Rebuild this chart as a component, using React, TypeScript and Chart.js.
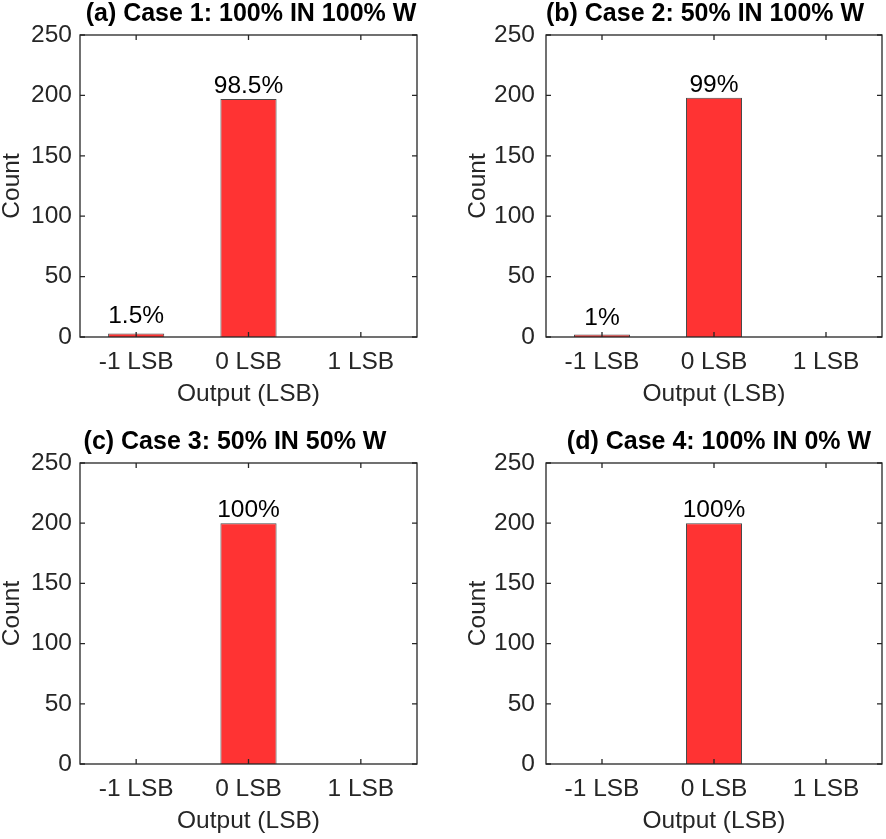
import { useEffect, useRef } from "react";
import { Chart, registerables } from "chart.js";

Chart.register(...registerables);

// ---- data ----
const categories = ["-1 LSB", "0 LSB", "1 LSB"];

const case1Counts = [3, 197, 0];
const case2Counts = [2, 198, 0];
const case3Counts = [0, 200, 0];
const case4Counts = [0, 200, 0];

const case1Labels = ["1.5%", "98.5%", ""];
const case2Labels = ["1%", "99%", ""];
const case3Labels = ["", "100%", ""];
const case4Labels = ["", "100%", ""];

const panelTitles = [
  "(a) Case 1: 100% IN 100% W",
  "(b) Case 2: 50% IN 100% W",
  "(c) Case 3: 50% IN 50% W",
  "(d) Case 4: 100% IN 0% W",
];

const yMin = 0;
const yMax = 250;
const yStep = 50;

const xTitle = "Output (LSB)";
const yTitle = "Count";

// ---- layout (px) ----
const FONT = '"Liberation Sans", Arial, Helvetica, sans-serif';
const FONT_SIZE = 24.5;
const TITLE_SIZE = 25;
const TEXT = "#262626";
const BAR_FILL = "#ff3333";
const BAR_EDGE = "#4a4a4a";

interface PanelLayout {
  left: number;
  top: number;
  width: number;
  height: number;
  padTop: number;
  padRight: number;
  yAxisWidth: number;
  yLabelPad: number;
  yTitlePad: number;
  titleX: number;
}

const layouts: PanelLayout[] = [
  { left: 0, top: 0, width: 443, height: 412, padTop: 35, padRight: 26, yAxisWidth: 80, yLabelPad: 8, yTitlePad: 0, titleX: 251 },
  { left: 443, top: 0, width: 443, height: 412, padTop: 35, padRight: 4, yAxisWidth: 103, yLabelPad: 11, yTitlePad: 23, titleX: 262 },
  { left: 0, top: 420, width: 443, height: 419, padTop: 43, padRight: 26, yAxisWidth: 80, yLabelPad: 8, yTitlePad: 0, titleX: 235 },
  { left: 443, top: 420, width: 443, height: 419, padTop: 43, padRight: 4, yAxisWidth: 103, yLabelPad: 11, yTitlePad: 23, titleX: 276 },
];

const X_AXIS_HEIGHT = 75;

interface PanelProps {
  counts: number[];
  labels: string[];
  title: string;
  layout: PanelLayout;
}

function Panel({ counts, labels, title, layout }: PanelProps) {
  const canvasRef = useRef<HTMLCanvasElement>(null);
  const chartRef = useRef<Chart | null>(null);

  useEffect(() => {
    if (!canvasRef.current) return;
    if (chartRef.current) chartRef.current.destroy();

    // box, inward ticks, bar value labels and panel title
    const decor = {
      id: "panelDecor",
      afterDatasetsDraw(chart: any) {
        const { ctx, chartArea, scales } = chart;
        const { left, right, top, bottom } = chartArea;
        const x = scales.x;
        const y = scales.y;
        ctx.save();

        ctx.strokeStyle = TEXT;
        ctx.lineWidth = 1.3;
        ctx.strokeRect(left, top, right - left, bottom - top);

        const len = 5;
        ctx.beginPath();
        y.ticks.forEach((_t: any, i: number) => {
          const py = y.getPixelForTick(i);
          ctx.moveTo(left, py);
          ctx.lineTo(left + len, py);
          ctx.moveTo(right, py);
          ctx.lineTo(right - len, py);
        });
        x.ticks.forEach((_t: any, i: number) => {
          const px = x.getPixelForTick(i);
          ctx.moveTo(px, bottom);
          ctx.lineTo(px, bottom - len);
          ctx.moveTo(px, top);
          ctx.lineTo(px, top + len);
        });
        ctx.stroke();

        ctx.fillStyle = "#000";
        ctx.font = `${FONT_SIZE}px ${FONT}`;
        ctx.textAlign = "center";
        ctx.textBaseline = "alphabetic";
        const meta = chart.getDatasetMeta(0);
        meta.data.forEach((bar: any, i: number) => {
          const txt = labels[i];
          if (!txt) return;
          const gap = counts[i] < 20 ? 10 : 6;
          ctx.fillText(txt, bar.x, bar.y - gap);
        });

        ctx.font = `bold ${TITLE_SIZE}px ${FONT}`;
        ctx.fillText(title, layout.titleX, top - 14);
        ctx.restore();
      },
    };

    chartRef.current = new Chart(canvasRef.current, {
      type: "bar",
      data: {
        labels: categories,
        datasets: [
          {
            data: counts,
            backgroundColor: BAR_FILL,
            borderColor: BAR_EDGE,
            borderWidth: 1,
            barPercentage: 1,
            categoryPercentage: 0.5,
          },
        ],
      },
      options: {
        responsive: false,
        animation: false,
        layout: {
          padding: { top: layout.padTop, right: layout.padRight, left: 0, bottom: 0 },
        },
        plugins: {
          legend: { display: false },
          tooltip: { enabled: false },
          title: { display: false },
        },
        scales: {
          x: {
            grid: { display: false, drawTicks: false },
            border: { display: false },
            ticks: {
              color: TEXT,
              font: { family: FONT, size: FONT_SIZE, lineHeight: 1.2 },
              padding: 11,
              maxRotation: 0,
            },
            title: {
              display: true,
              text: xTitle,
              color: TEXT,
              font: { family: FONT, size: FONT_SIZE, lineHeight: 1 },
              padding: { top: 0, bottom: 6 },
            },
            afterFit: (s: any) => {
              s.height = X_AXIS_HEIGHT;
            },
          },
          y: {
            min: yMin,
            max: yMax,
            grid: { display: false, drawTicks: false },
            border: { display: false },
            ticks: {
              stepSize: yStep,
              color: TEXT,
              font: { family: FONT, size: FONT_SIZE },
              padding: layout.yLabelPad,
            },
            title: {
              display: true,
              text: yTitle,
              color: TEXT,
              font: { family: FONT, size: FONT_SIZE, lineHeight: 1 },
              padding: { top: layout.yTitlePad, bottom: 0 },
            },
            afterFit: (s: any) => {
              s.width = layout.yAxisWidth;
            },
          },
        },
      },
      plugins: [decor],
    });

    return () => {
      if (chartRef.current) {
        chartRef.current.destroy();
        chartRef.current = null;
      }
    };
  }, [counts, labels, title, layout]);

  return (
    <div
      style={{
        position: "absolute",
        left: layout.left,
        top: layout.top,
        width: layout.width,
        height: layout.height,
      }}
    >
      <canvas
        ref={canvasRef}
        width={layout.width}
        height={layout.height}
        style={{ width: layout.width, height: layout.height, display: "block" }}
      ></canvas>
    </div>
  );
}

const allCounts = [case1Counts, case2Counts, case3Counts, case4Counts];
const allLabels = [case1Labels, case2Labels, case3Labels, case4Labels];

export default function App() {
  return (
    <div
      style={{
        position: "absolute",
        left: 0,
        top: 0,
        width: 886,
        height: 839,
        overflow: "hidden",
        background: "#fff",
      }}
    >
      {layouts.map((layout, i) => (
        <Panel
          key={panelTitles[i]}
          counts={allCounts[i]}
          labels={allLabels[i]}
          title={panelTitles[i]}
          layout={layout}
        />
      ))}
    </div>
  );
}
